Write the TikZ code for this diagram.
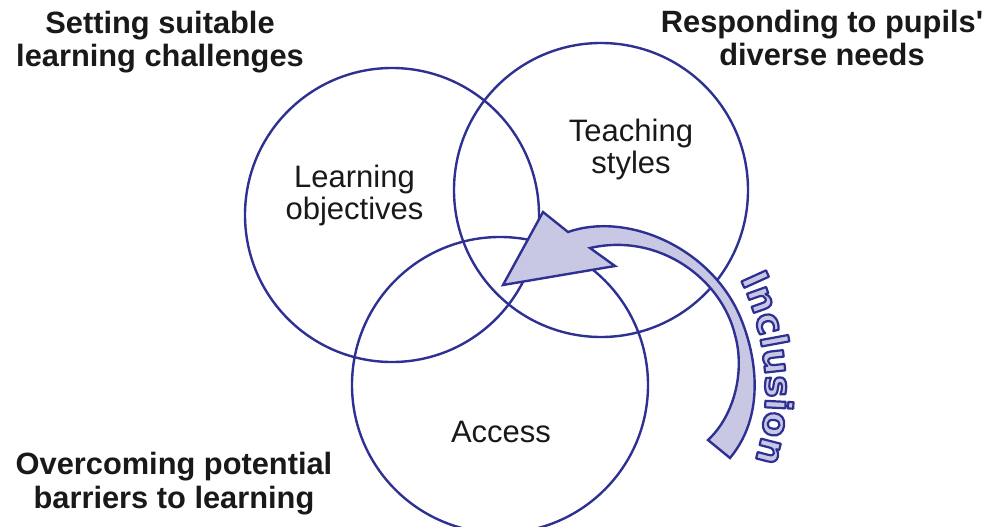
\documentclass[tikz,border=0pt]{standalone}
\usepackage{fontspec}
\setmainfont{Liberation Sans}[Ligatures=TeXOff]
\newfontfamily\incfont{DejaVu Sans}
\usetikzlibrary{decorations.text}
\definecolor{navy}{RGB}{46,49,146}
\definecolor{lav}{RGB}{200,200,228}
\newcommand\incfmt{\special{pdf:literal direct 2 Tr 2.2 w 1 j 0.18 0.19 0.57 RG}}
\begin{document}
\begin{tikzpicture}[x=1pt,y=-1pt,
  ring/.style={draw=navy,line width=2.4pt},
  inner/.style={font=\fontsize{31}{32.5}\selectfont,align=center,text=black!90,inner sep=0pt},
  heading/.style={font=\bfseries\fontsize{30.8}{33.3}\selectfont,align=center,text=black!90,inner sep=0pt},
  band/.style={draw=navy,fill=lav,line width=2.4pt,line join=miter}]
\useasboundingbox (0,0) rectangle (996,527);
\fill[white] (0,0) rectangle (996,527);
% circles
\draw[ring] (392,215) circle[radius=147pt];
\draw[ring] (601,190) circle[radius=147pt];
\draw[ring] (500,385) circle[radius=148pt];
% circle labels
\node[inner] (lo) at (354.5,195.5) {Learning\\objectives};
\node[inner] (ts) at (631,149.5) {Teaching\\styles};
\node[inner,anchor=base] (ac) at (501,442) {Access};
% headings
\node[heading] (h1) at (160,42) {Setting suitable\\learning challenges};
\node[heading] (h2) at (822,38) {Responding to pupils'\\diverse needs};
\node[heading] (h3) at (174,483.5) {Overcoming potential\\barriers to learning};
% curved arrow
\draw[band] (503,285) -- (543,212) -- (568,232)
  .. controls (625,212) and (705,245) .. (737,310)
  .. controls (753,343) and (770,410) .. (730,458)
  -- (708,440)
  .. controls (735,415) and (745,370) .. (735,335)
  .. controls (722,280) and (660,232) .. (590,248)
  -- (615,266) -- cycle;
% Inclusion text
\coordinate (incs) at (722,248);
\coordinate (ince) at (740,493);
\path[decorate,decoration={text along path,text align=center,text color=lav,
   text={|\incfont\bfseries\fontsize{37}{37}\selectfont\incfmt|Inclusion}}]
   (incs) .. controls (775,323) and (778,433) .. (ince);
\end{tikzpicture}
\end{document}
